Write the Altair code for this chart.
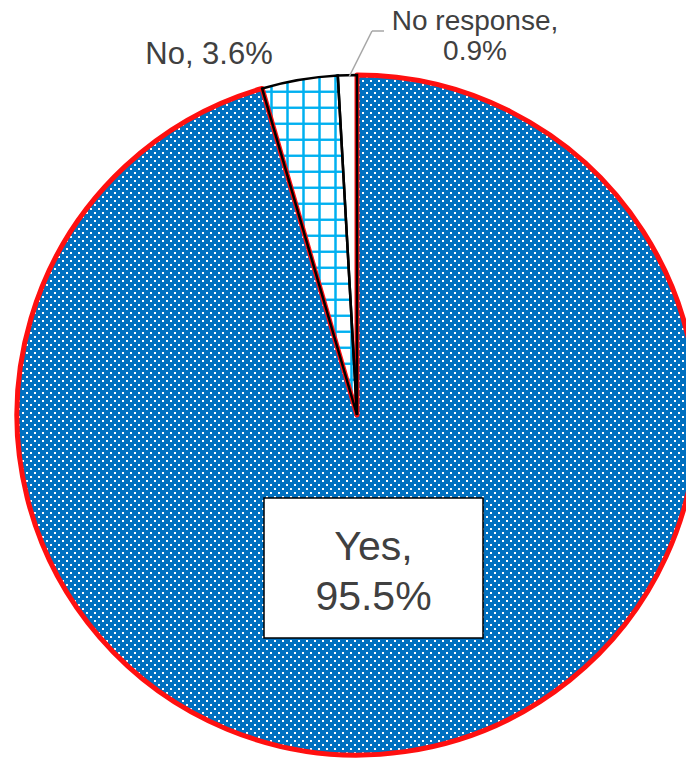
import math
import altair as alt
import pandas as pd

# ---- data ----
categories = ["Yes", "No", "No response"]
values = [95.5, 3.6, 0.9]
order_idx = [0, 1, 2]
fills = ["#0070C0", "#FFFFFF", "#FFFFFF"]

label_text_no = "No, 3.6%"
label_text_nr = ["No response,", "0.9%"]
label_text_yes = ["Yes,", "95.5%"]

# ---- layout ----
W, H = 686, 760
CX, CY, R = 357, 415, 340
FONT = "Liberation Sans, Arial, sans-serif"
TXT = "#404040"

total = sum(values)
yes_end = values[0] / total * 360.0            # degrees clockwise from top
no_end = (values[0] + values[1]) / total * 360.0
a_no_start = yes_end - 360.0                   # negative angle (left of top)
a_no_end = no_end - 360.0

df = pd.DataFrame({"cat": categories, "val": values, "idx": order_idx})

xs = alt.Scale(domain=[0, W], range=[0, W], nice=False, zero=False)
ys = alt.Scale(domain=[0, H], range=[0, H], nice=False, zero=False)
tscale = alt.Scale(domain=[0, total])

base = (
    alt.Chart(df)
    .transform_window(cum="sum(val)", sort=[alt.SortField("idx")])
    .transform_calculate(start="datum.cum - datum.val")
)
arc_enc = dict(
    theta=alt.Theta("start:Q", scale=tscale, stack=None),
    theta2="cum:Q",
    x=alt.value(CX),
    y=alt.value(CY),
)

fill_arcs = base.mark_arc(outerRadius=R, strokeWidth=0).encode(
    fill=alt.Fill("cat:N", scale=alt.Scale(domain=categories, range=fills), legend=None),
    **arc_enc,
)

# dotted texture for the "Yes" slice
NCOL, NROW = W // 8 + 1, H // 4 + 1
dots = (
    alt.Chart(alt.sequence(0, NCOL * NROW, as_="i"))
    .transform_calculate(row="floor(datum.i / %d)" % NCOL, col="datum.i %% %d" % NCOL)
    .transform_calculate(px="datum.col * 8 + (datum.row % 2) * 4 + 3", py="datum.row * 4 + 1")
    .transform_calculate(dx="datum.px - %d" % CX, dy="datum.py - %d" % CY)
    .transform_calculate(
        r="sqrt(datum.dx * datum.dx + datum.dy * datum.dy)",
        ang="atan2(datum.dx, -datum.dy) * 180 / PI",
    )
    .transform_filter("datum.r < %f && (datum.ang >= 0.3 || datum.ang < %f)" % (R - 1, a_no_start - 0.3))
    .mark_square(size=4, color="white", opacity=1)
    .encode(x=alt.X("px:Q", scale=xs, axis=None), y=alt.Y("py:Q", scale=ys, axis=None))
)

# grid texture for the "No" slice
GSTEP = 16
vert = (
    alt.Chart(alt.sequence(0, 8 * 380, as_="i"))
    .transform_calculate(px="255.5 + %f * floor(datum.i / 380)" % GSTEP, py="60 + (datum.i % 380)")
)
horiz = (
    alt.Chart(alt.sequence(0, 24 * 120, as_="i"))
    .transform_calculate(py="75.7 + %f * floor(datum.i / 120)" % GSTEP, px="250 + (datum.i % 120)")
)


def grid_layer(ch):
    return (
        ch.transform_calculate(dx="datum.px - %d" % CX, dy="datum.py - %d" % CY)
        .transform_calculate(
            r="sqrt(datum.dx * datum.dx + datum.dy * datum.dy)",
            ang="atan2(datum.dx, -datum.dy) * 180 / PI",
        )
        .transform_filter("datum.r < %f && datum.ang > %f && datum.ang < %f" % (R, a_no_start, a_no_end))
        .mark_square(size=4, color="#00B0F0", opacity=1)
        .encode(x=alt.X("px:Q", scale=xs, axis=None), y=alt.Y("py:Q", scale=ys, axis=None))
    )


grid_v = grid_layer(vert)
grid_h = grid_layer(horiz)

stroke_yes = base.transform_filter("datum.idx == 0").mark_arc(
    outerRadius=R, fillOpacity=0, stroke="#FF1010", strokeWidth=5, strokeJoin="round"
).encode(**arc_enc)
stroke_other = base.transform_filter("datum.idx > 0").mark_arc(
    outerRadius=R, fillOpacity=0, stroke="#000000", strokeWidth=2.5, strokeJoin="miter"
).encode(**arc_enc)

# leader line for "No response"
leader_x = [349, 372]
leader_y = [77, 31]
leader_x2 = [372, 384]
leader_y2 = [31, 31]
leaders = [
    alt.Chart(df).mark_rule(color="#A6A6A6", strokeWidth=1.5).encode(
        x=alt.value(leader_x[k]), y=alt.value(leader_y[k]),
        x2=alt.value(leader_x2[k]), y2=alt.value(leader_y2[k]),
    ).transform_filter("datum.idx == 0")
    for k in range(2)
]


def text(t, x, y, size, align="center"):
    return alt.Chart(df).transform_filter("datum.idx == 0").mark_text(
        text=t, font=FONT, fontSize=size, color=TXT, align=align, baseline="alphabetic"
    ).encode(x=alt.value(x), y=alt.value(y))


lbl_no = text(label_text_no, 209, 63.5, 31)
lbl_nr1 = text(label_text_nr[0], 475, 30, 28)
lbl_nr2 = text(label_text_nr[1], 475, 59.5, 28)

box = alt.Chart(df).transform_filter("datum.idx == 0").mark_rect(
    fill="white", stroke="#000000", strokeWidth=1.5
).encode(x=alt.value(264), x2=alt.value(483), y=alt.value(498), y2=alt.value(638))
lbl_yes1 = text(label_text_yes[0], 373.5, 560, 41)
lbl_yes2 = text(label_text_yes[1], 373.5, 610, 41)

chart = (
    alt.layer(
        fill_arcs, dots, grid_v, grid_h, stroke_yes, stroke_other,
        *leaders, lbl_no, lbl_nr1, lbl_nr2, box, lbl_yes1, lbl_yes2,
    )
    .properties(width=W, height=H, autosize=alt.AutoSizeParams(type="none"), padding=0, background="white")
    .configure_view(stroke=None)
)

chart.save("out.html", embed_options={"renderer": "svg", "actions": False})
